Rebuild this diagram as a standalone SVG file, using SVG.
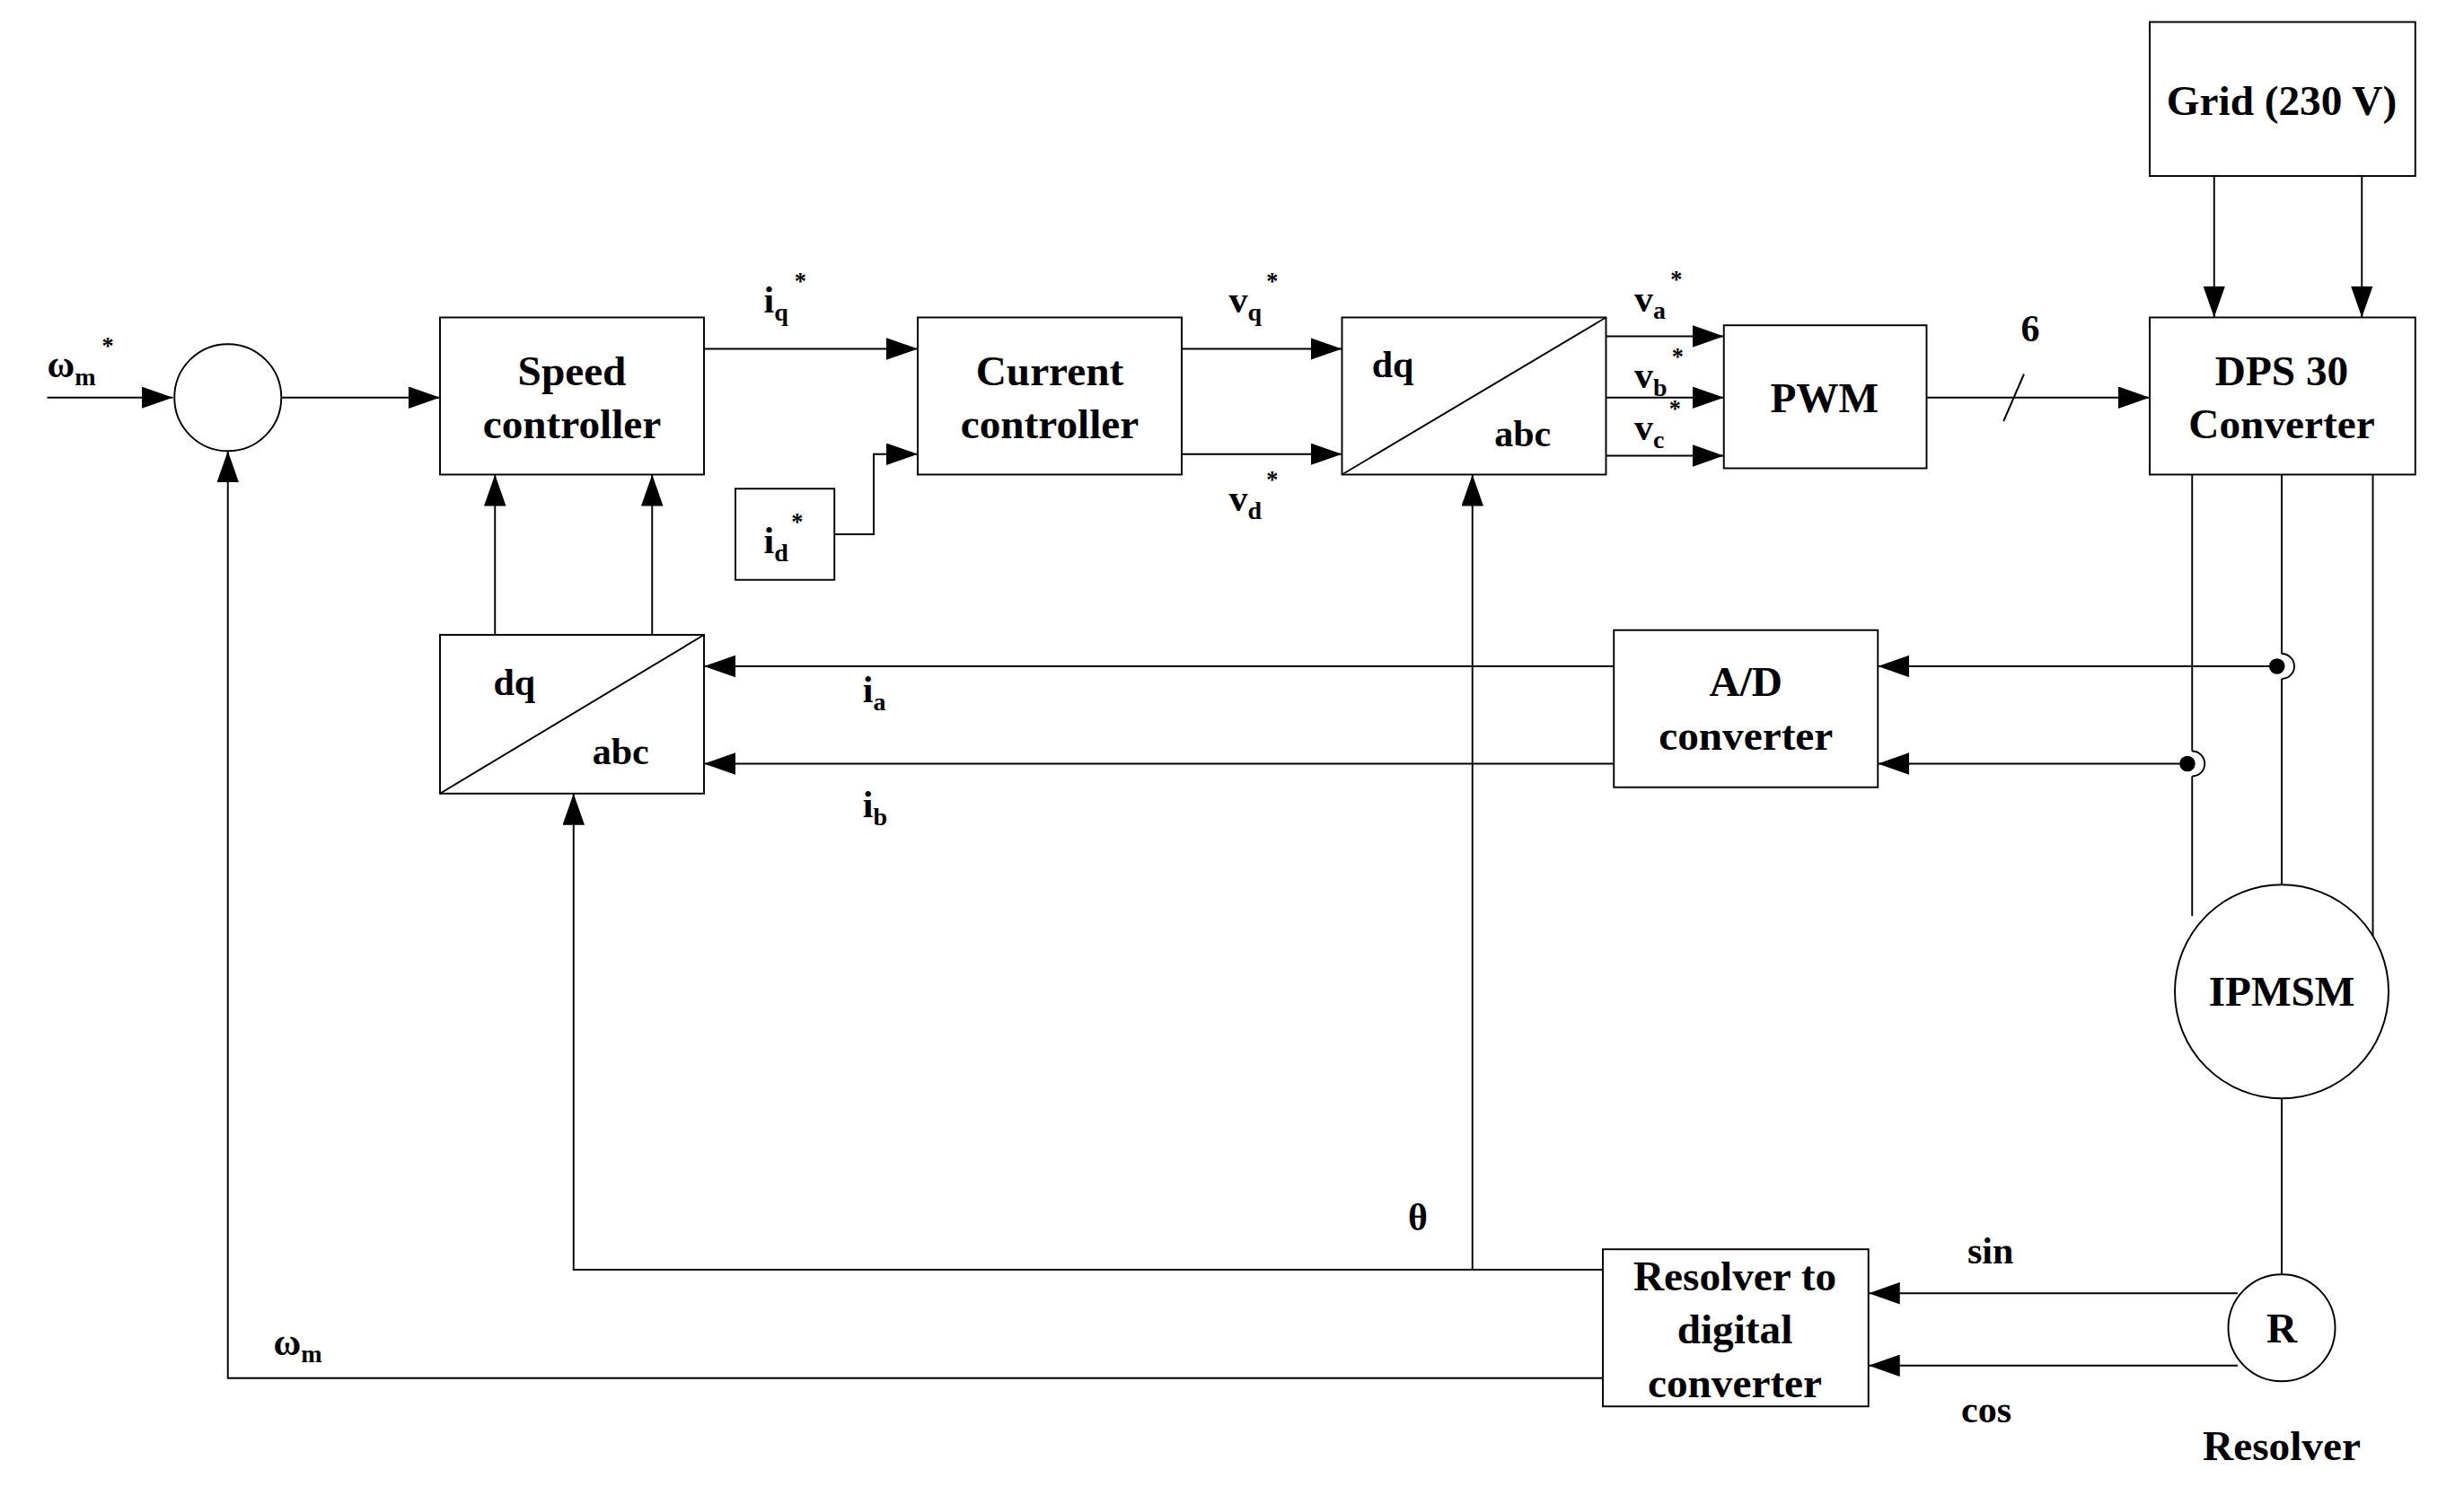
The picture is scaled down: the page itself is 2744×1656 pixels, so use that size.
<svg xmlns="http://www.w3.org/2000/svg" width="2744" height="1656" viewBox="0 0 2744 1656">
<style>
.b{fill:#fff;stroke:#000;stroke-width:1.1}
.l{fill:none;stroke:#000;stroke-width:1.1}
.a{marker-end:url(#ar)}
text{font-family:"Liberation Serif","Times New Roman",serif;font-weight:bold;fill:#000}
.t{font-size:27px;text-anchor:middle}
.s{font-size:24px}
.sub{font-size:16px}
.st{font-size:15px}
</style>
<defs>
<marker id="ar" markerUnits="userSpaceOnUse" markerWidth="20" markerHeight="14" refX="20" refY="7" orient="auto"><path d="M0,0 L20,7 L0,14 Z" fill="#000"/></marker>
</defs>
<rect width="2744" height="1656" fill="#fff"/>
<g transform="scale(1.75)">
<g id="connectors">
<path class="l a" d="M30,253 H110"/>
<path class="l a" d="M179,253 H280"/>
<path class="l a" d="M448,222 H584"/>
<path class="l a" d="M531,340 H556 V289 H584"/>
<path class="l a" d="M752,222 H854"/>
<path class="l a" d="M752,289 H854"/>
<path class="l a" d="M1022,214 H1097"/>
<path class="l a" d="M1022,253 H1097"/>
<path class="l a" d="M1022,290 H1097"/>
<path class="l a" d="M1226,253 H1368"/>
<path class="l" d="M1275,268 L1288,238"/>
<path class="l a" d="M1409,112 V202"/>
<path class="l a" d="M1503,112 V202"/>
<path class="l" d="M1395,302 V478 M1395,494 V583"/>
<path class="l" d="M1452,302 V416 M1452,432 V563"/>
<path class="l" d="M1510,302 V598"/>
<path class="l" d="M1452,416 A8,8 0 0 1 1452,432"/>
<path class="l" d="M1395,478 A8,8 0 0 1 1395,494"/>
<circle cx="1449" cy="424" r="5"/>
<circle cx="1392" cy="486" r="5"/>
<path class="l a" d="M1449,424 H1195"/>
<path class="l a" d="M1392,486 H1195"/>
<path class="l a" d="M1027,424 H448"/>
<path class="l a" d="M1027,486 H448"/>
<path class="l a" d="M315,404 V302"/>
<path class="l a" d="M415,404 V302"/>
<path class="l a" d="M1020,808 H365 V505"/>
<path class="l a" d="M937,808 V302"/>
<path class="l a" d="M1020,877 H145 V287"/>
<path class="l" d="M1452,699 V811"/>
<path class="l a" d="M1424,823 H1189"/>
<path class="l a" d="M1424,869 H1189"/>
</g>
<g id="sum"><circle class="b" cx="145" cy="253" r="34"/></g>
<g id="speed"><rect class="b" x="280" y="202" width="168" height="100"/><text class="t" x="364" y="245">Speed</text><text class="t" x="364" y="279">controller</text></g>
<g id="current"><rect class="b" x="584" y="202" width="168" height="100"/><text class="t" x="668" y="245">Current</text><text class="t" x="668" y="279">controller</text></g>
<g id="idref"><rect class="b" x="468" y="311" width="63" height="58"/><text class="s" x="486" y="352">i<tspan class="sub" dy="5">d</tspan><tspan class="st" dx="2" dy="-20">*</tspan></text></g>
<g id="dqabc1"><rect class="b" x="854" y="202" width="168" height="100"/><path class="l" d="M854,302 L1022,202"/><text class="s" x="873" y="240">dq</text><text class="s" x="951" y="284">abc</text></g>
<g id="pwm"><rect class="b" x="1097" y="207" width="129" height="91"/><text class="t" x="1161" y="262">PWM</text></g>
<g id="grid"><rect class="b" x="1368" y="14" width="169" height="98"/><text class="t" x="1452" y="73">Grid (230 V)</text></g>
<g id="dps"><rect class="b" x="1368" y="202" width="169" height="100"/><text class="t" x="1452" y="245">DPS 30</text><text class="t" x="1452" y="279">Converter</text></g>
<g id="motor"><circle class="b" cx="1452" cy="631" r="68"/><text class="t" x="1452" y="640">IPMSM</text></g>
<g id="ad"><rect class="b" x="1027" y="401" width="168" height="100"/><text class="t" x="1111" y="443">A/D</text><text class="t" x="1111" y="477">converter</text></g>
<g id="dqabc2"><rect class="b" x="280" y="404" width="168" height="101"/><path class="l" d="M280,505 L448,404"/><text class="s" x="314" y="442">dq</text><text class="s" x="377" y="486">abc</text></g>
<g id="rdc"><rect class="b" x="1020" y="795" width="169" height="100"/><text class="t" x="1104" y="821">Resolver to</text><text class="t" x="1104" y="855">digital</text><text class="t" x="1104" y="889">converter</text></g>
<g id="resolver"><circle class="b" cx="1452" cy="845" r="34"/><text class="t" x="1452" y="854">R</text><text class="t" x="1452" y="929">Resolver</text></g>
<g id="labels">
<text class="s" x="30" y="240">ω<tspan class="sub" dy="5">m</tspan><tspan class="st" dx="4" dy="-20">*</tspan></text>
<text class="s" x="486" y="199">i<tspan class="sub" dy="5">q</tspan><tspan class="st" dx="4" dy="-20">*</tspan></text>
<text class="s" x="782" y="199">v<tspan class="sub" dy="5">q</tspan><tspan class="st" dx="3" dy="-20">*</tspan></text>
<text class="s" x="782" y="325">v<tspan class="sub" dy="5">d</tspan><tspan class="st" dx="3" dy="-20">*</tspan></text>
<text class="s" x="1040" y="198">v<tspan class="sub" dy="5">a</tspan><tspan class="st" dx="3" dy="-20">*</tspan></text>
<text class="s" x="1040" y="247">v<tspan class="sub" dy="5">b</tspan><tspan class="st" dx="3" dy="-20">*</tspan></text>
<text class="s" x="1040" y="280">v<tspan class="sub" dy="5">c</tspan><tspan class="st" dx="3" dy="-20">*</tspan></text>
<text class="s" x="1286" y="217">6</text>
<text class="s" x="549" y="447">i<tspan class="sub" dy="5">a</tspan></text>
<text class="s" x="549" y="520">i<tspan class="sub" dy="5">b</tspan></text>
<text class="s" x="896" y="783">θ</text>
<text class="s" x="1252" y="804">sin</text>
<text class="s" x="1248" y="905">cos</text>
<text class="s" x="174" y="862">ω<tspan class="sub" dy="5">m</tspan></text>
</g>
</g>
</svg>
